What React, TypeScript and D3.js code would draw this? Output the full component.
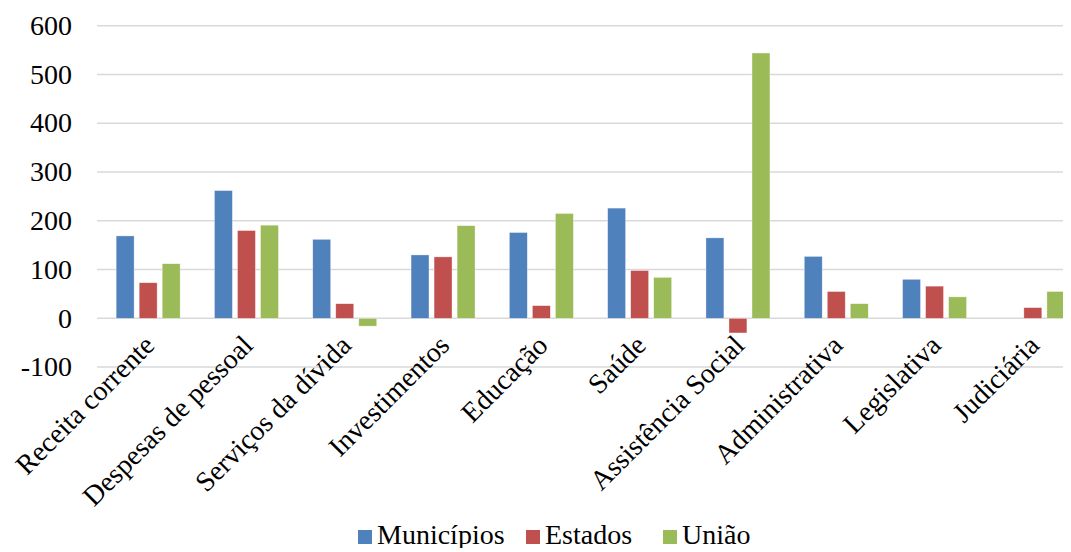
import React from "react";
import * as d3 from "d3";

const categories = [
  "Receita corrente",
  "Despesas de pessoal",
  "Serviços da dívida",
  "Investimentos",
  "Educação",
  "Saúde",
  "Assistência Social",
  "Administrativa",
  "Legislativa",
  "Judiciária",
];
const seriesNames = ["Municípios", "Estados", "União"];
const municipios = [169, 262, 162, 130, 176, 226, 165, 127, 80, 0];
const estados = [73, 180, 30, 126, 26, 98, -30, 55, 66, 22];
const uniao = [112, 191, -16, 190, 215, 84, 544, 30, 44, 55];
const yTicks = [-100, 0, 100, 200, 300, 400, 500, 600];
const colors = ["#4F81BD", "#C0504D", "#9BBB59"];

export default function App() {
  const W = 1071;
  const H = 552;
  const fam = "Liberation Serif";
  const fs = 28;
  const x = d3.scaleBand<string>().domain(categories).range([99, 1082]);
  const y = d3.scaleLinear().domain([-100, 600]).range([367.1, 25.7]);
  const inner = d3.scaleBand<string>().domain(seriesNames).range([-32, 32]).paddingInner(0.22);
  const data = [municipios, estados, uniao];

  return (
    <div style={{ margin: -8 }}>
      <svg width={W} height={H} fontFamily={fam}>
        <rect x={0} y={0} width={W} height={H} fill="#fff" />
        {yTicks.map((t) => (
          <g key={t}>
            <line x1={97} x2={W} y1={y(t)} y2={y(t)} stroke="#D9D9D9" strokeWidth={1.5} />
            <text x={72} y={y(t)} dy="0.33em" textAnchor="end" fontFamily={fam} style={{ fontFamily: `"${fam}"` }} fontSize={fs} fill="#000">
              {t}
            </text>
          </g>
        ))}
        {data.map((vals, si) =>
          vals.map((v, ci) => {
            if (v === 0) return null;
            const cx = (x(categories[ci]) as number) + x.bandwidth() / 2;
            const bx = cx + (inner(seriesNames[si]) as number);
            return (
              <rect
                key={`${si}-${ci}`}
                x={bx}
                width={inner.bandwidth()}
                y={Math.min(y(v), y(0))}
                height={Math.abs(y(v) - y(0))}
                fill={colors[si]}
                stroke="#fff"
                strokeOpacity={0.6}
                strokeWidth={0.6}
              />
            );
          })
        )}
        {categories.map((c) => {
          const cx = (x(c) as number) + x.bandwidth() / 2 + 8;
          const ty = 347;
          return (
            <text
              key={c}
              x={cx}
              y={ty}
              transform={`rotate(-45 ${cx} ${ty})`}
              textAnchor="end"
              fontFamily={fam}
              style={{ fontFamily: `"${fam}"` }}
              fontSize={fs}
              fill="#000"
            >
              {c}
            </text>
          );
        })}
        {seriesNames.map((s, i) => {
          const lx = [358, 526, 663][i];
          return (
            <g key={s}>
              <rect x={lx} y={530} width={14} height={14} fill={colors[i]} />
              <text x={lx + 19} y={544} fontFamily={fam} style={{ fontFamily: `"${fam}"` }} fontSize={fs} fill="#000">
                {s}
              </text>
            </g>
          );
        })}
      </svg>
    </div>
  );
}
